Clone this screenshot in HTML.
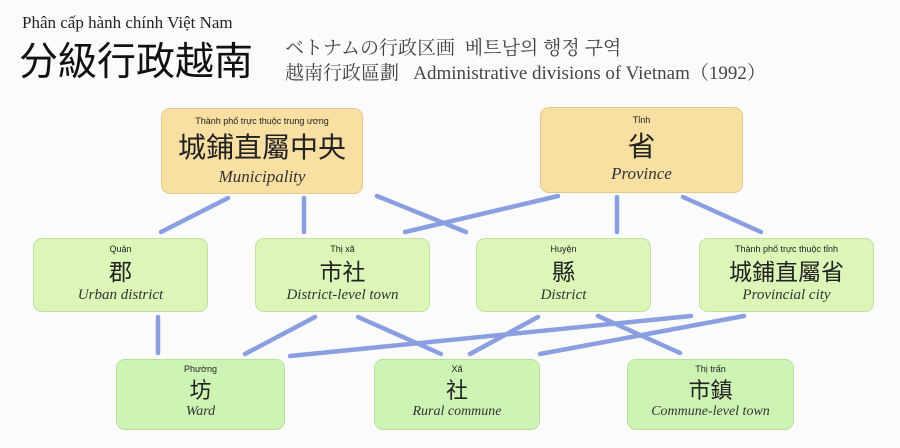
<!DOCTYPE html>
<html><head><meta charset="utf-8"><style>
body{margin:0;width:900px;height:448px;background:#fbfbfc;position:relative;overflow:hidden;font-family:"Liberation Serif","Noto Serif CJK SC",serif;color:#222}
.t{position:absolute;white-space:nowrap}
.b{position:absolute;border-radius:9px;text-align:center;box-sizing:border-box}
.y{background:#f8dfa2;border:1.5px solid #e3c88c}
.g{background:#dcf6b8;border:1.5px solid #c2e0a2}
.h{background:#cdf4b4;border:1.5px solid #b5e09c}
.s{font-family:"Liberation Sans","Noto Sans CJK SC",sans-serif;font-size:9px;position:absolute;left:0;right:0}
.c{font-family:"Noto Sans CJK SC",sans-serif;position:absolute;left:0;right:0;line-height:1}
.e{font-style:italic;position:absolute;left:0;right:0;font-size:15px;color:#333}
</style></head><body>
<div class="t" style="left:22px;top:13px;font-size:17px;color:#222">Phân cấp hành chính Việt Nam</div>
<div class="t" style="left:19px;top:38px;font-size:39px;font-family:'Noto Sans CJK SC',sans-serif;line-height:1.1;color:#111">分級行政越南</div>
<div class="t" style="left:285px;top:33px;font-size:19px;font-family:'Noto Serif CJK JP',serif;color:#444">ベトナムの行政区画&nbsp;&nbsp;베트남의 행정 구역</div>
<div class="t" style="left:285px;top:58px;font-size:19px;color:#444"><span style="font-family:'Noto Serif CJK TC',serif">越南行政區劃</span>&nbsp;&nbsp;&nbsp;Administrative divisions of Vietnam（1992）</div>

<svg width="900" height="448" style="position:absolute;left:0;top:0" stroke="#8b9fe0" stroke-width="4.5" stroke-linecap="round">
<line x1="228" y1="198" x2="161" y2="232"/>
<line x1="304" y1="198" x2="304" y2="232"/>
<line x1="377" y1="196" x2="466" y2="232"/>
<line x1="558" y1="196" x2="405" y2="232"/>
<line x1="617" y1="197" x2="617" y2="232"/>
<line x1="683" y1="197" x2="761" y2="232"/>
<line x1="158" y1="317" x2="158" y2="353"/>
<line x1="315" y1="317" x2="245" y2="354"/>
<line x1="358" y1="317" x2="441" y2="354"/>
<line x1="538" y1="317" x2="470" y2="354"/>
<line x1="598" y1="316" x2="680" y2="353"/>
<line x1="691" y1="316" x2="290" y2="356"/>
<line x1="744" y1="316" x2="540" y2="354"/>
</svg>

<div class="b y" style="left:161px;top:108px;width:202px;height:86px">
<div class="s" style="top:7px">Thành phố trực thuộc trung ương</div>
<div class="c" style="top:23px;font-size:28px">城鋪直屬中央</div>
<div class="e" style="top:58px;font-size:17px">Municipality</div></div>
<div class="b y" style="left:540px;top:107px;width:203px;height:86px">
<div class="s" style="top:7px">Tỉnh</div>
<div class="c" style="top:23px;font-size:28px">省</div>
<div class="e" style="top:56px;font-size:17px">Province</div></div>

<div class="b g" style="left:33px;top:238px;width:175px;height:74px">
<div class="s" style="top:5px">Quận</div>
<div class="c" style="top:20px;font-size:23px">郡</div>
<div class="e" style="top:48px">Urban district</div></div>
<div class="b g" style="left:255px;top:238px;width:175px;height:74px">
<div class="s" style="top:5px">Thị xã</div>
<div class="c" style="top:20px;font-size:23px">市社</div>
<div class="e" style="top:48px">District-level town</div></div>
<div class="b g" style="left:476px;top:238px;width:175px;height:74px">
<div class="s" style="top:5px">Huyện</div>
<div class="c" style="top:20px;font-size:23px">縣</div>
<div class="e" style="top:48px">District</div></div>
<div class="b g" style="left:699px;top:238px;width:175px;height:74px">
<div class="s" style="top:5px">Thành phố trực thuộc tỉnh</div>
<div class="c" style="top:20px;font-size:23px">城鋪直屬省</div>
<div class="e" style="top:48px">Provincial city</div></div>

<div class="b h" style="left:116px;top:359px;width:169px;height:71px">
<div class="s" style="top:4px">Phường</div>
<div class="c" style="top:18px;font-size:22px">坊</div>
<div class="e" style="top:44px;font-size:14px">Ward</div></div>
<div class="b h" style="left:374px;top:359px;width:166px;height:71px">
<div class="s" style="top:4px">Xã</div>
<div class="c" style="top:18px;font-size:22px">社</div>
<div class="e" style="top:44px;font-size:14px">Rural commune</div></div>
<div class="b h" style="left:627px;top:359px;width:167px;height:71px">
<div class="s" style="top:4px">Thị trấn</div>
<div class="c" style="top:18px;font-size:22px">市鎮</div>
<div class="e" style="top:44px;font-size:14px">Commune-level town</div></div>
</body></html>
